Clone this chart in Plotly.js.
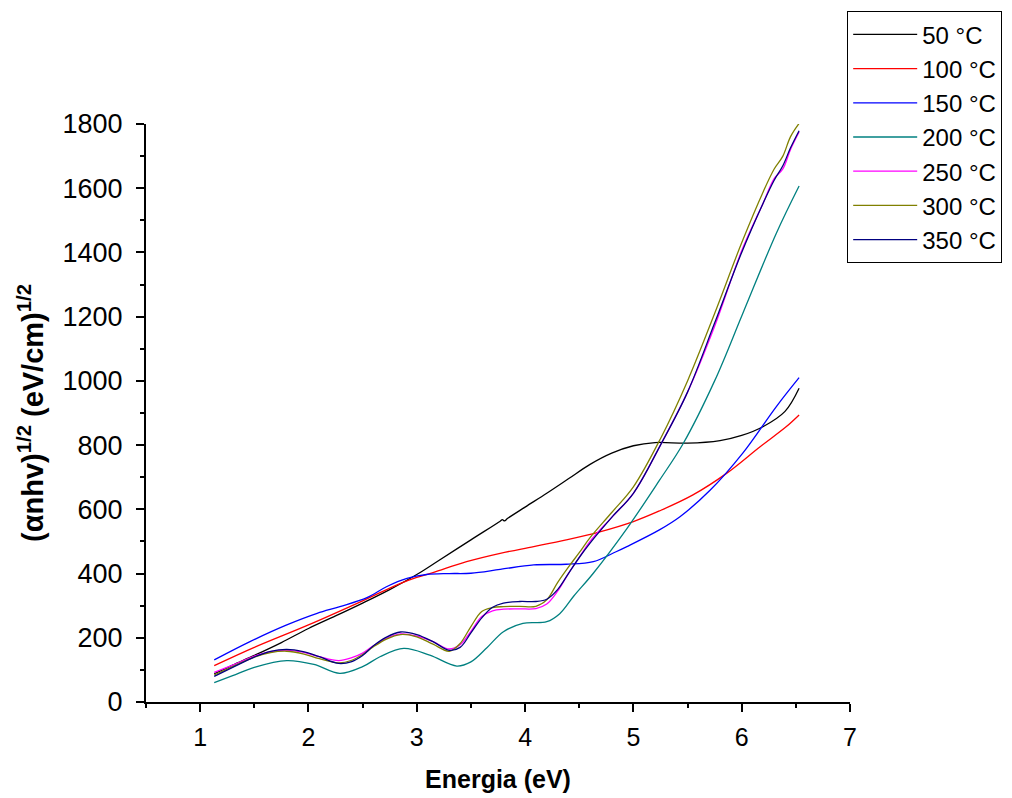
<!DOCTYPE html>
<html>
<head>
<meta charset="utf-8">
<script src="https://cdn.plot.ly/plotly-3.0.1.min.js"></script>
<style>html,body{margin:0;padding:0;background:#fff;}#chart{width:1012px;height:798px;}</style>
</head>
<body>
<div id="chart"></div>
<script>
// Series names
const seriesNames = ["50 °C", "100 °C", "150 °C", "200 °C", "250 °C", "300 °C", "350 °C"];
const seriesColors = ["#000000", "#ff0000", "#0000ff", "#008080", "#ff00ff", "#808000", "#000080"];

// 50 °C
const E50 = [1.13, 1.3, 1.5, 1.75, 2.0, 2.25, 2.5, 2.75, 3.0, 3.2, 3.5, 3.77, 3.79, 3.81, 3.84, 4.0, 4.2, 4.4, 4.6, 4.8, 5.0, 5.2, 5.5, 5.8, 6.0, 6.2, 6.4, 6.53];
const V50 = [88, 115, 145, 185, 229, 268, 308, 350, 397, 440, 505, 563, 568, 564, 572, 607, 650, 695, 740, 775, 798, 808, 806, 814, 830, 858, 905, 977];

// 100 °C
const E100 = [1.13, 1.5, 2.0, 2.5, 2.84, 3.0, 3.15, 3.46, 3.77, 4.08, 4.38, 4.69, 5.0, 5.24, 5.55, 5.86, 6.17, 6.41, 6.53];
const V100 = [113, 170, 240, 315, 368, 388, 403, 437, 463, 484, 505, 530, 562, 595, 645, 712, 795, 857, 894];

// 150 °C
const E150 = [1.13, 1.46, 1.8, 2.08, 2.29, 2.54, 2.72, 2.91, 3.09, 3.3, 3.5, 3.77, 4.08, 4.38, 4.63, 4.84, 4.94, 5.24, 5.43, 5.71, 6.01, 6.32, 6.53];
const V150 = [131, 188, 240, 276, 297, 325, 359, 385, 397, 400, 401, 413, 427, 429, 437, 468, 484, 536, 577, 660, 775, 920, 1010];

// 200 °C
const E200 = [1.13, 1.3, 1.5, 1.8, 2.05, 2.29, 2.5, 2.66, 2.88, 3.12, 3.37, 3.5, 3.65, 3.8, 3.98, 4.2, 4.32, 4.45, 4.63, 4.94, 5.24, 5.46, 5.75, 6.01, 6.32, 6.53];
const V200 = [60, 82, 108, 129, 117, 89, 110, 141, 167, 146, 112, 125, 170, 219, 245, 250, 275, 330, 401, 540, 690, 805, 1000, 1210, 1460, 1607];

// common energy grid for 250/300/350 °C
const Egrid = [1.13, 1.3, 1.5, 1.65, 1.8, 1.95, 2.1, 2.28, 2.4, 2.5, 2.6, 2.72, 2.85, 3.0, 3.15, 3.3, 3.4, 3.5, 3.6, 3.7, 3.8, 3.95, 4.1, 4.2, 4.3, 4.4, 4.5, 4.6, 4.8, 5.0, 5.25, 5.5, 5.75, 6.0, 6.2, 6.3, 6.38, 6.45, 6.53];
const V250 = [92, 115, 143, 157, 161, 155, 141, 129, 138, 152, 175, 198, 212, 205, 188, 165, 178, 220, 266, 284, 289, 290, 291, 305, 345, 400, 450, 500, 575, 650, 800, 965, 1170, 1405, 1555, 1630, 1660, 1720, 1775];
const V300 = [84, 110, 140, 154, 158, 150, 135, 122, 130, 148, 172, 196, 210, 203, 180, 158, 182, 235, 282, 294, 297, 298, 298, 318, 372, 420, 465, 512, 590, 670, 820, 1000, 1210, 1430, 1590, 1660, 1700, 1760, 1802];
const V350 = [80, 108, 140, 158, 164, 157, 141, 120, 126, 145, 175, 202, 218, 210, 188, 161, 170, 215, 262, 295, 308, 313, 313, 320, 350, 400, 450, 495, 575, 650, 800, 965, 1180, 1400, 1555, 1625, 1670, 1725, 1779];

const xs = [E50, E100, E150, E200, Egrid, Egrid, Egrid];
const ys = [V50, V100, V150, V200, V250, V300, V350];

const traces = seriesNames.map((n, i) => ({
  x: xs[i], y: ys[i], name: n, type: 'scatter', mode: 'lines',
  line: {color: seriesColors[i], width: 1.3, shape: 'spline', smoothing: 1}
}));

const FONT = 'Arial, Liberation Sans, sans-serif';
const axisCommon = {
  showline: true, linecolor: '#000', linewidth: 2,
  ticks: 'outside', ticklen: 8, tickwidth: 2, tickcolor: '#000',
  showgrid: false, zeroline: false
};

const layout = {
  width: 1012, height: 798,
  margin: {l: 146, r: 162, t: 124, b: 96, autoexpand: false},
  paper_bgcolor: '#fff', plot_bgcolor: '#fff',
  showlegend: true,
  xaxis: Object.assign({}, axisCommon, {
    range: [0.5, 7], tick0: 0, dtick: 1,
    tickfont: {family: FONT, size: 25, color: '#000'},
    ticklabelstandoff: 4,
    minor: {dtick: 0.5, tick0: 0, ticks: 'outside', ticklen: 4, tickwidth: 2, tickcolor: '#000'},
    title: {text: 'Energia (eV)', font: {family: FONT, size: 25, color: '#000', weight: 'bold'}, standoff: 20}
  }),
  yaxis: Object.assign({}, axisCommon, {
    range: [0, 1800], tick0: 0, dtick: 200,
    tickfont: {family: FONT, size: 27, color: '#000'},
    ticklabelstandoff: 8,
    minor: {dtick: 100, tick0: 0, ticks: 'outside', ticklen: 4, tickwidth: 2, tickcolor: '#000'},
    title: {text: '(αnhv)<sup>1/2</sup> (eV/cm)<sup>1/2</sup>', font: {family: FONT, size: 29, color: '#000', weight: 'bold'}, standoff: 10}
  }),
  legend: {
    x: 0.996, y: 1.195, xanchor: 'left', yanchor: 'top',
    bgcolor: '#fff', bordercolor: '#000', borderwidth: 1,
    font: {family: FONT, size: 24, color: '#000'},
    itemwidth: 64, tracegroupgap: 0
  }
};

Plotly.newPlot('chart', traces, layout, {displayModeBar: false, staticPlot: true});
</script>
</body>
</html>
